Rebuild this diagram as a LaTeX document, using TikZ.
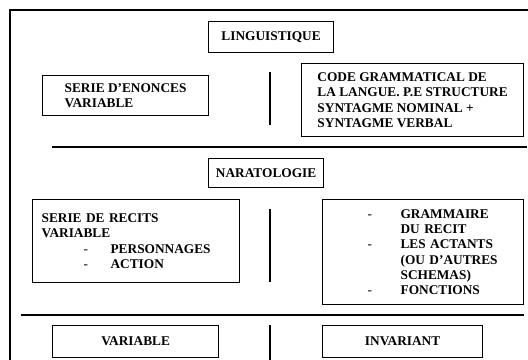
\documentclass[tikz,border=0pt]{standalone}
\usepackage{fontspec}
\setmainfont{Liberation Serif}

\newcommand{\puce}[2][31.5pt]{\makebox[51.75pt][l]{\hspace*{#1}\textmd{-}}#2}
\newcommand{\suite}[1]{\hspace*{51.75pt}#1}

\begin{document}
\begin{tikzpicture}[x=0.75pt, y=-0.75pt,
  boite/.style={draw, line width=0.9pt, anchor=north west, inner sep=0pt,
    font=\bfseries\fontsize{10}{11.5}\selectfont},
  trait/.style={line width=0.9pt}]
  \useasboundingbox (0,0) rectangle (528,360);

  % Cadre
  \draw[line width=1.5pt] (10,360) -- (10,10) -- (528,10);

  % Linguistique
  \node[boite, minimum width=93.75pt, minimum height=23.25pt] (ling) at (208,21) {LINGUISTIQUE};
  \node[boite, align=left, minimum width=124.5pt, minimum height=30pt] (enonces) at (42,75)
    {SERIE D'ENONCES\\VARIABLE};
  \node[boite, align=left, minimum width=166.5pt, minimum height=54.75pt] (code) at (301,63)
    {CODE GRAMMATICAL DE\\LA LANGUE. P.E STRUCTURE\\SYNTAGME NOMINAL +\\SYNTAGME VERBAL};
  \draw[trait] (270,72) -- (270,125);
  \draw[trait] (52,147) -- (527,147);

  % Naratologie
  \node[boite, minimum width=86.25pt, minimum height=21.75pt] (narat) at (208,158) {NARATOLOGIE};
  \node[boite, align=left, text width=141.75pt, inner xsep=6.75pt, minimum height=62.25pt] (recits) at (32,199)
    {SERIE DE RECITS\\VARIABLE\\\puce{PERSONNAGES}\\\puce{ACTION}};
  \node[boite, align=left, text width=137.25pt, inner xsep=6.75pt, minimum height=78.75pt] (gramm) at (322,199)
    {\puce[27pt]{GRAMMAIRE}\\\suite{DU RECIT}\\\puce[27pt]{LES ACTANTS}\\\suite{(OU D'AUTRES}\\\suite{SCHEMAS)}\\\puce[27pt]{FONCTIONS}};
  \draw[trait] (270,209) -- (270,282);
  \draw[trait] (21,315) -- (524,315);

  % Variable / invariant
  \node[boite, minimum width=124.5pt, minimum height=24pt] (var) at (52,325) {VARIABLE};
  \node[boite, minimum width=120pt, minimum height=24pt] (inv) at (322,325) {INVARIANT};
  \draw[trait] (270,325) -- (270,360);
\end{tikzpicture}
\end{document}
